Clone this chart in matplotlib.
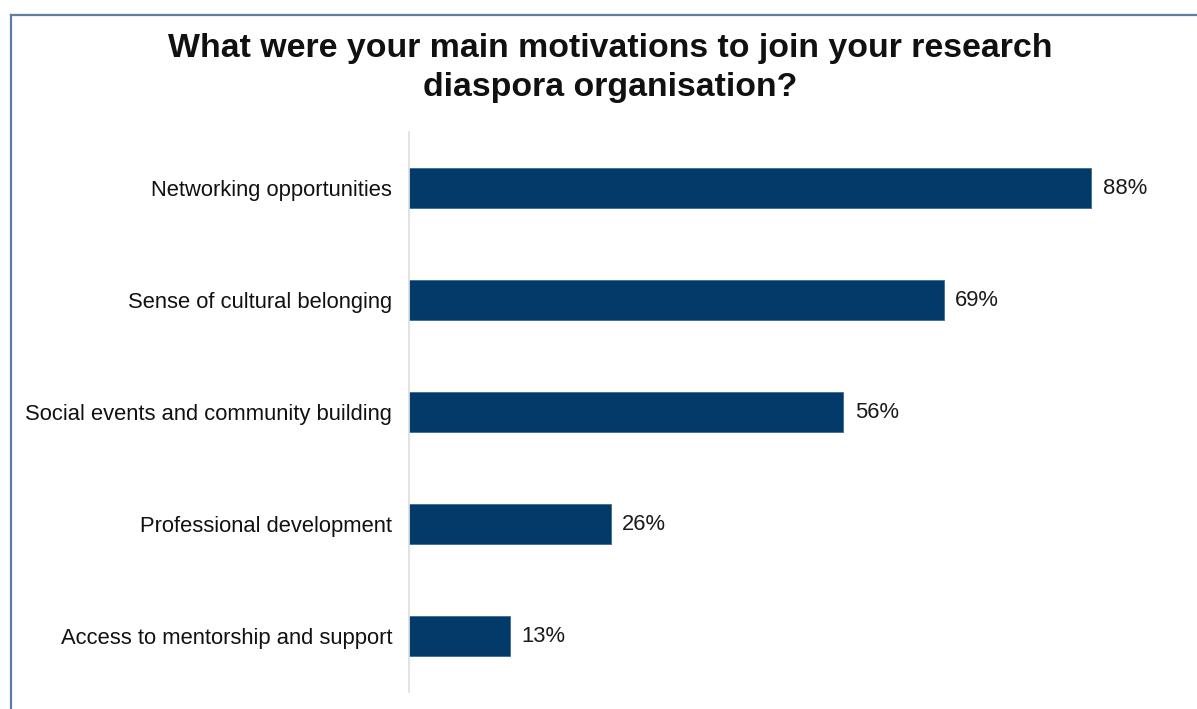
import matplotlib.pyplot as plt
from matplotlib.lines import Line2D

categories = [
    "Networking opportunities",
    "Sense of cultural belonging",
    "Social events and community building",
    "Professional development",
    "Access to mentorship and support",
]
values = [88, 69, 56, 26, 13]
title = "What were your main motivations to join your research\ndiaspora organisation?"

W, H = 1197, 709
fig = plt.figure(figsize=(W / 100, H / 100), dpi=100)
plt.rcParams['font.family'] = ['Liberation Sans', 'DejaVu Sans']

# axes placed in pixel terms
left, right, top, bottom = 409, 1184, 132, 692
ax = fig.add_axes([left / W, 1 - bottom / H, (right - left) / W, (bottom - top) / H])

bar_color = "#023a6a"
ypos = list(range(len(categories)))
ax.barh(ypos, values, height=0.36, color=bar_color, edgecolor="#3d6a96", linewidth=0.6)
ax.set_ylim(len(categories) - 0.5, -0.5)
ax.set_xlim(0, 100)

for y, v in zip(ypos, values):
    ax.text(v + 1.5, y, f"{v}%", va="center", ha="left", fontsize=15.8, color="#1a1a1a")

ax.set_yticks(ypos)
ax.set_yticklabels(categories, fontsize=15.8, color="#111111")
ax.tick_params(axis="y", length=0, pad=12)
ax.set_xticks([])
for s in ["top", "right", "bottom"]:
    ax.spines[s].set_visible(False)
ax.spines["left"].set_color("#dddddd")
ax.spines["left"].set_linewidth(1.2)

fig.text(610 / W, 1 - 68 / H, title, ha="center", va="center", fontsize=24.4,
         fontweight="bold", color="#111111", linespacing=1.33)

# frame lines along the top and left edges
border = "#5a7ea6"
fig.add_artist(Line2D([11 / W, 1.0], [1 - 15 / H, 1 - 15 / H], color=border, lw=1.6,
                      transform=fig.transFigure))
fig.add_artist(Line2D([11 / W, 11 / W], [0, 1 - 15 / H], color=border, lw=1.6,
                      transform=fig.transFigure))

fig.savefig("out.png", dpi=100)
